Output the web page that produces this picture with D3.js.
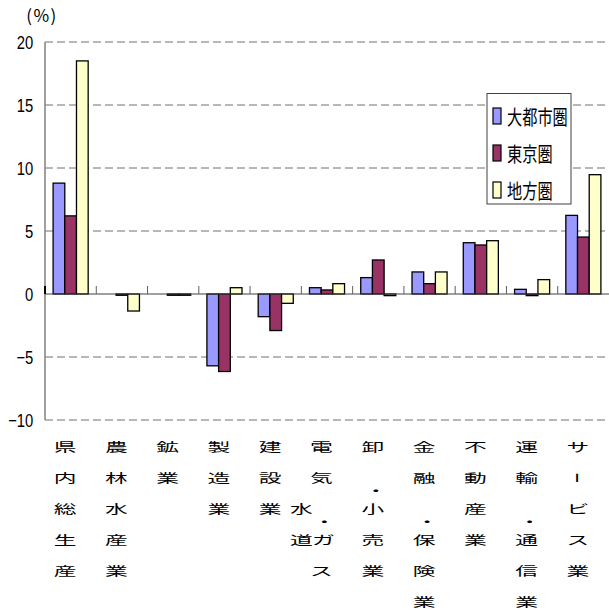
<!DOCTYPE html>
<html><head><meta charset="utf-8">
<script src="https://cdn.jsdelivr.net/npm/d3@7"></script>
<style>body{margin:0;background:#fff}svg{display:block}</style>
</head><body><svg id="c" width="609" height="611"></svg>
<script>
const categories = ["県内総生産","農林水産業","鉱業","製造業","建設業","電気・ガス・水道業","卸・小売業","金融・保険業","不動産業","運輸・通信業","サービス業"];
const labelRows = [["県","内","総","生","産"],["農","林","水","産","業"],["鉱","業"],["製","造","業"],["建","設","業"],["電","気","水・","道ガ","ス"],["卸","・","小","売","業"],["金","融","・","保","険","業"],["不","動","産","業"],["運","輸","・","通","信","業"],["サ","ー","ビ","ス","業"]];
const seriesNames = ["大都市圏","東京圏","地方圏"];
const daitoshi = [8.8, 0, 0, -5.7, -1.8, 0.5, 1.3, 1.75, 4.07, 0.37, 6.24];
const tokyo    = [6.2, -0.1, -0.1, -6.15, -2.9, 0.32, 2.7, 0.82, 3.89, -0.13, 4.52];
const chiho    = [18.5, -1.35, -0.1, 0.5, -0.74, 0.82, -0.13, 1.75, 4.23, 1.14, 9.47];
const yTicks = [-10, -5, 0, 5, 10, 15, 20];
const colors = ["#9999FF", "#993366", "#FFFFCC"];

const values = [daitoshi, tokyo, chiho];
const svg = d3.select("#c");
const L = 45, R = 609, T = 42, B = 420;
const y = d3.scaleLinear().domain([-10, 20]).range([B, T]);
const x0 = d3.scaleBand().domain(categories).range([L, R]);
const bw = x0.bandwidth();
const x1 = d3.scaleBand().domain(seriesNames).range([bw * 0.158, bw * 0.842]);
const color = d3.scaleOrdinal().domain(seriesNames).range(colors);

// gridlines
svg.append("g").selectAll("line").data(yTicks.filter(t => t !== 0)).join("line")
  .attr("x1", L).attr("x2", R).attr("y1", d => y(d)).attr("y2", d => y(d))
  .attr("stroke", "#707070").attr("stroke-width", 1).attr("stroke-dasharray", "8,4");

// y axis
const yAx = svg.append("g").attr("transform", `translate(${L},0)`)
  .call(d3.axisLeft(y).tickValues(yTicks).tickSize(0).tickPadding(15));
yAx.select(".domain").remove();
yAx.selectAll("text").attr("font-family", "Liberation Sans, Arial, sans-serif")
  .attr("font-size", 19).attr("fill", "#000").attr("dy", "0.36em")
  .attr("transform", "scale(0.78,1)");
svg.append("line").attr("x1", L).attr("x2", L).attr("y1", T).attr("y2", B)
  .attr("stroke", "#808080").attr("stroke-width", 1.5);

// bars
const groups = svg.append("g").selectAll("g").data(categories).join("g")
  .attr("transform", d => `translate(${x0(d)},0)`);
groups.selectAll("rect").data((c, i) => seriesNames.map((s, j) => ({s, v: values[j][i]}))).join("rect")
  .attr("x", d => x1(d.s)).attr("width", x1.bandwidth())
  .attr("y", d => y(Math.max(0, d.v))).attr("height", d => Math.abs(y(d.v) - y(0)))
  .attr("fill", d => color(d.s)).attr("stroke", "#000").attr("stroke-width", 1.3);

// zero line
svg.append("line").attr("x1", L).attr("x2", R).attr("y1", y(0)).attr("y2", y(0))
  .attr("stroke", "#404040").attr("stroke-width", 1);

// category ticks
const xAx = svg.append("g").attr("transform", `translate(0,${y(0)})`)
  .call(d3.axisBottom(x0).tickSize(0).tickFormat(""));
xAx.select(".domain").remove();
svg.append("g").selectAll("line").data(categories).join("line")
  .attr("x1", d => x0(d)).attr("x2", d => x0(d))
  .attr("y1", y(0) - 8).attr("y2", y(0))
  .attr("stroke", (d, i) => i === 0 ? "#000" : "#606060").attr("stroke-width", (d, i) => i === 0 ? 2 : 1);

// x labels (vertical stacked)
const rowY0 = 447, pitch = 31;
const lab = svg.append("g").attr("font-family", "Noto Sans CJK JP, sans-serif").attr("font-size", 13).attr("fill", "#000");
categories.forEach((c, i) => {
  const cx = x0(c) + bw / 2 - 5.5;
  labelRows[i].forEach((row, r) => {
    const chars = Array.from(row);
    const cy = rowY0 + r * pitch;
    chars.forEach((ch, k) => {
      let px = cx, py = cy;
      if (chars.length === 2 && k === 0) px = cx - 20;
      if (chars.length === 2 && k === 1 && ch !== "・") px = cx + 2;
      if (ch === "・") { px = px + 3; py = cy + 13; }
      let tr = `translate(${px},${py}) scale(1.75,0.95)`;
      if (ch === "ー") tr = `translate(${px},${py}) rotate(90) scale(0.8,1.6)`;
      lab.append("text").attr("transform", tr)
        .attr("text-anchor", "middle").attr("dominant-baseline", "central").text(ch);
    });
  });
});

// (%) label
svg.append("text").attr("transform", "translate(42,14)").attr("text-anchor", "middle")
  .attr("dominant-baseline", "central")
  .attr("font-family", "Noto Sans CJK JP, sans-serif").attr("font-size", 17).text("(%)")
  .attr("letter-spacing", 1.5);

// legend
const lg = svg.append("g");
lg.append("rect").attr("x", 487).attr("y", 93.5).attr("width", 84).attr("height", 110.5)
  .attr("fill", "#fff").attr("stroke", "#404040").attr("stroke-width", 1);
const legY = [116, 153, 190];
seriesNames.forEach((s, i) => {
  lg.append("rect").attr("x", 493).attr("y", legY[i] - 8).attr("width", 8).attr("height", 16)
    .attr("fill", color(s)).attr("stroke", "#000").attr("stroke-width", 1.2);
  lg.append("text").attr("transform", `translate(507,${legY[i]}) scale(0.8,1.08)`)
    .attr("dominant-baseline", "central").attr("font-family", "Noto Sans CJK JP, sans-serif")
    .attr("font-size", 19).text(s);
});
</script></body></html>
